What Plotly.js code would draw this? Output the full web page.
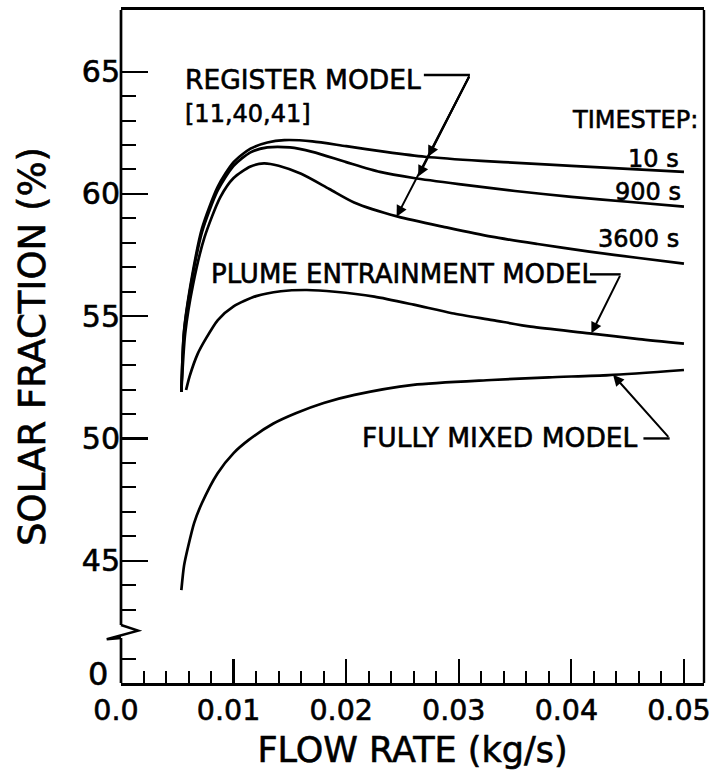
<!DOCTYPE html>
<html>
<head>
<meta charset="utf-8">
<script src="https://cdn.plot.ly/plotly-3.0.1.min.js"></script>
<style>
html,body{margin:0;padding:0;background:#fff;}
#chart text{stroke:#000;stroke-width:0.6px;}
</style>
</head>
<body>
<div id="chart" style="width:714px;height:774px;"></div>
<script>
// ---- data (flow rate kg/s, solar fraction %) ----
const x10s = [0.00536, 0.0056, 0.0063, 0.0072, 0.0086, 0.0100, 0.0115, 0.0130, 0.0145, 0.0170, 0.0200, 0.0235, 0.0270, 0.0320, 0.0360, 0.0400, 0.0450, 0.0500];
const y10s = [51.9, 54.4, 56.6, 58.6, 60.3, 61.3, 61.85, 62.1, 62.2, 62.15, 61.95, 61.72, 61.52, 61.35, 61.25, 61.15, 61.02, 60.9];

const x900s = [0.00536, 0.0056, 0.0063, 0.0072, 0.0086, 0.0100, 0.0115, 0.0130, 0.0150, 0.0170, 0.0200, 0.0230, 0.0260, 0.0300, 0.0350, 0.0400, 0.0450, 0.0500];
const y900s = [51.9, 54.35, 56.5, 58.45, 60.15, 61.15, 61.7, 61.9, 61.9, 61.72, 61.3, 60.9, 60.65, 60.4, 60.12, 59.88, 59.68, 59.48];

const x3600s = [0.00536, 0.0057, 0.0064, 0.0074, 0.0088, 0.0100, 0.0115, 0.0127, 0.0140, 0.0160, 0.0185, 0.0207, 0.0246, 0.0290, 0.0329, 0.0370, 0.0416, 0.0460, 0.0500];
const y3600s = [51.9, 54.3, 56.3, 58.2, 59.85, 60.65, 61.12, 61.25, 61.15, 60.82, 60.2, 59.65, 59.07, 58.62, 58.25, 57.95, 57.64, 57.38, 57.15];

const xPlume = [0.00578, 0.0061, 0.0068, 0.0075, 0.0086, 0.0100, 0.0120, 0.0142, 0.0165, 0.0190, 0.0225, 0.0260, 0.0294, 0.0330, 0.0364, 0.0416, 0.0460, 0.0500];
const yPlume = [51.98, 52.55, 53.45, 54.05, 54.84, 55.4, 55.82, 56.02, 56.07, 56.0, 55.8, 55.47, 55.12, 54.84, 54.57, 54.3, 54.06, 53.88];

const xMixed = [0.00536, 0.0056, 0.00596, 0.0065, 0.00718, 0.00857, 0.0100, 0.01135, 0.0135, 0.01552, 0.0180, 0.02074, 0.02595, 0.0329, 0.0380, 0.04334, 0.0500];
const yMixed = [43.8, 44.8, 45.57, 46.55, 47.35, 48.57, 49.4, 49.94, 50.6, 51.03, 51.45, 51.78, 52.19, 52.39, 52.5, 52.59, 52.8];

// ---- ticks ----
const xTickVals = [0, 0.01, 0.02, 0.03, 0.04, 0.05];
const xTickText = ['0.0', '0.01', '0.02', '0.03', '0.04', '0.05'];
const xMinorVals = [0.002,0.004,0.006,0.008,0.012,0.014,0.016,0.018,0.022,0.024,0.026,0.028,0.032,0.034,0.036,0.038,0.042,0.044,0.046,0.048];
const yTickVals = [40, 45, 50, 55, 60, 65];
const yTickText = ['0', '45', '50', '55', '60', '65'];
const yMinorVals = [41,43,44,46,47,48,49,51,52,53,54,56,57,58,59,61,62,63,64];

const FONT = 'DejaVu Sans, sans-serif';
const Y0 = 40, Y1 = 67.52;              // y axis range (bottom value "0" drawn at the 40 position: broken axis)
const yp = v => (v - Y0) / (Y1 - Y0);   // value -> paper fraction
const line = {color: '#000', width: 2.7, shape: 'spline', smoothing: 0.7};

const traces = [
  {x: x10s, y: y10s, mode: 'lines', line: line, name: '10 s'},
  {x: x900s, y: y900s, mode: 'lines', line: line, name: '900 s'},
  {x: x3600s, y: y3600s, mode: 'lines', line: line, name: '3600 s'},
  {x: xPlume, y: yPlume, mode: 'lines', line: line, name: 'Plume entrainment'},
  {x: xMixed, y: yMixed, mode: 'lines', line: line, name: 'Fully mixed'}
];

function txt(text, x, y, xanchor, size) {
  return {text: text, x: x, y: y, xref: 'x', yref: 'y', xanchor: xanchor, yanchor: 'middle',
          showarrow: false, font: {family: FONT, size: size || 26, color: '#000'}};
}
function arr(tx, ty, hx, hy) {
  return {text: '', x: hx, y: hy, ax: tx, ay: ty, xref: 'x', yref: 'y', axref: 'x', ayref: 'y',
          showarrow: true, arrowhead: 2, arrowsize: 1.1, arrowwidth: 2, arrowcolor: '#000', standoff: 0, startstandoff: 0};
}

const annotations = [
  txt('REGISTER MODEL', 0.0055, 64.66, 'left', 26.5),
  txt('[11,40,41]', 0.0055, 63.27, 'left', 24),
  txt('TIMESTEP:', 0.0514, 63.02, 'right', 24),
  txt('10 s', 0.0497, 61.43, 'right', 24),
  txt('900 s', 0.0499, 60.09, 'right', 24),
  txt('3600 s', 0.0497, 58.16, 'right', 24),
  txt('PLUME ENTRAINMENT MODEL', 0.0078, 56.73, 'left', 26),
  txt('FULLY MIXED MODEL', 0.0212, 50.04, 'left', 26.5),
  // bottom label of the broken y axis
  {text: yTickText[0], x: -0.019, y: yp(40.35), xref: 'paper', yref: 'paper', xanchor: 'right', yanchor: 'middle',
   showarrow: false, font: {family: FONT, size: 32, color: '#000'}},
  arr(0.03099, 64.865, 0.02728, 61.52),
  arr(0.03099, 64.865, 0.0264, 60.71),
  arr(0.03099, 64.865, 0.02448, 59.07),
  arr(0.04438, 56.71, 0.04178, 54.30),
  arr(0.04873, 50.0, 0.0437, 52.6)
];

const blk = {color: '#000', width: 2.4};
const ax = {color: '#000', width: 2.7};
const shapes = [
  // leader lines
  {type: 'line', xref: 'x', yref: 'y', x0: 0.02690, x1: 0.03099, y0: 64.865, y1: 64.865, line: blk},
  {type: 'line', xref: 'x', yref: 'y', x0: 0.04165, x1: 0.04438, y0: 56.71, y1: 56.71, line: blk},
  {type: 'line', xref: 'x', yref: 'y', x0: 0.04640, x1: 0.04873, y0: 50.0, y1: 50.0, line: blk},
  // left axis with break (zigzag)
  {type: 'line', xref: 'paper', yref: 'paper', x0: 0, x1: 0, y0: yp(42.37), y1: 1, line: ax},
  {type: 'line', xref: 'paper', yref: 'paper', x0: 0, x1: 0, y0: 0, y1: yp(41.84), line: ax},
  {type: 'path', xref: 'paper', yref: 'paper',
   path: 'M 0,' + yp(42.37) + ' L 0.0292,' + yp(42.14) + ' L -0.0245,' + yp(41.79) + ' L 0,' + yp(41.84),
   line: {color: '#000', width: 2.5}},
  // right frame
  {type: 'line', xref: 'paper', yref: 'paper', x0: 1, x1: 1, y0: 0, y1: 1, line: {color: '#000', width: 2.4}}
];

const yTickShown = yTickText.map((t, i) => i === 0 ? '' : t);

const layout = {
  width: 714, height: 774,
  margin: {l: 121, r: 10, t: 10, b: 91, pad: 0},
  paper_bgcolor: '#fff', plot_bgcolor: '#fff',
  showlegend: false,
  font: {family: FONT, color: '#000'},
  xaxis: {
    range: [0, 0.05178], showgrid: false, zeroline: false,
    showline: true, mirror: true, linecolor: '#000', linewidth: 2.7,
    tickmode: 'array', tickvals: xTickVals, ticktext: xTickText, ticklabeloverflow: 'allow',
    ticklabelshift: -5,
    ticks: 'inside', ticklen: 24, tickwidth: 2.2, tickcolor: '#000',
    tickfont: {family: FONT, size: 28.5, color: '#000'},
    minor: {tickmode: 'array', tickvals: xMinorVals, ticks: 'inside', ticklen: 12, tickwidth: 2, tickcolor: '#000', showgrid: false},
    title: {text: 'FLOW RATE (kg/s)', font: {family: FONT, size: 35, color: '#000'}, standoff: 12}
  },
  yaxis: {
    range: [Y0, Y1], showgrid: false, zeroline: false, showline: false,
    tickmode: 'array', tickvals: yTickVals, ticktext: yTickShown, ticklabeloverflow: 'allow',
    ticks: 'inside', ticklen: 27, tickwidth: 2.2, tickcolor: '#000',
    tickfont: {family: FONT, size: 30, color: '#000'},
    minor: {tickmode: 'array', tickvals: yMinorVals, ticks: 'inside', ticklen: 15, tickwidth: 2, tickcolor: '#000', showgrid: false},
    title: {text: 'SOLAR FRACTION (%)', font: {family: FONT, size: 37, color: '#000'}, standoff: 24}
  },
  annotations: annotations,
  shapes: shapes
};

Plotly.newPlot('chart', traces, layout, {displayModeBar: false, staticPlot: true});
</script>
</body>
</html>
